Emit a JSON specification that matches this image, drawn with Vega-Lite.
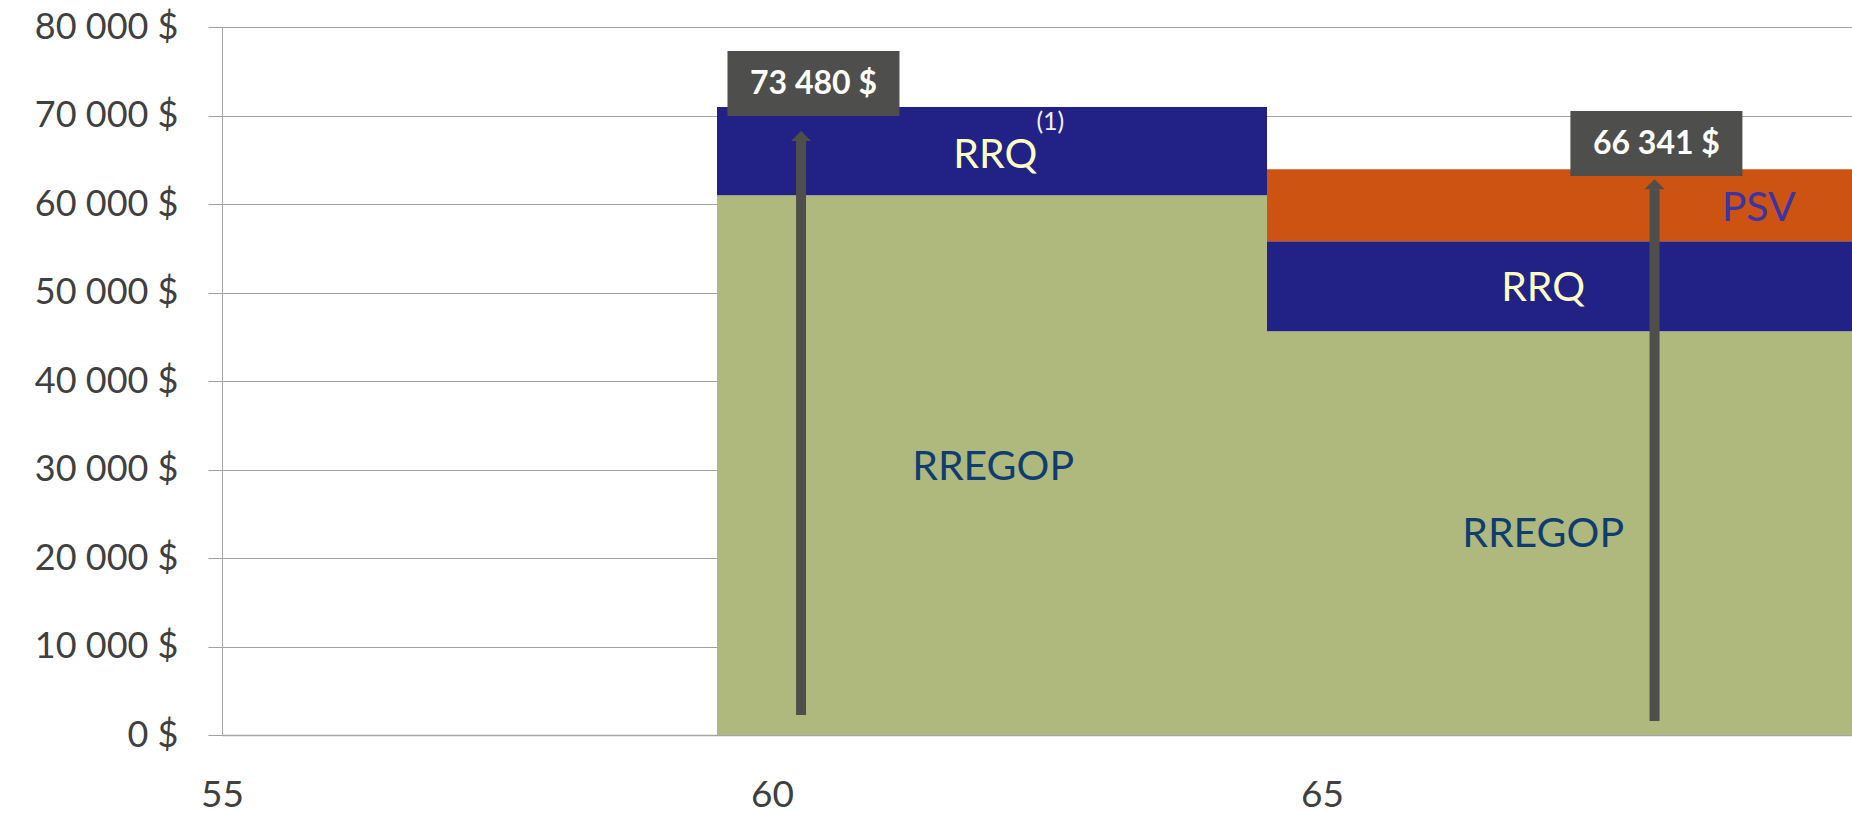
{
  "$schema": "https://vega.github.io/schema/vega-lite/v6.json",
  "width": 1630,
  "height": 708,
  "autosize": {"type": "none"},
  "padding": {"left": 222, "top": 27, "right": 0, "bottom": 78},
  "background": "white",
  "config": {"view": {"stroke": null}, "font": "Lato"},
  "datasets": {
    "segments": [
      {"segment": "RREGOP", "age_start": 59.5, "age_end": 64.5, "low": 0, "high": 61000},
      {"segment": "RRQ", "age_start": 59.5, "age_end": 64.5, "low": 61000, "high": 70950},
      {"segment": "RREGOP", "age_start": 64.5, "age_end": 70.5, "low": 0, "high": 45620},
      {"segment": "RRQ", "age_start": 64.5, "age_end": 70.5, "low": 45620, "high": 55800},
      {"segment": "PSV", "age_start": 64.5, "age_end": 70.5, "low": 55800, "high": 63940}
    ],
    "labels": [
      {"label": "RRQ", "age": 62.03, "amount": 65420},
      {"label": "(1)", "age": 62.53, "amount": 69290},
      {"label": "RREGOP", "age": 62.01, "amount": 30170},
      {"label": "RRQ", "age": 67.01, "amount": 50340},
      {"label": "PSV", "age": 68.97, "amount": 59420},
      {"label": "RREGOP", "age": 67.01, "amount": 22560}
    ],
    "totals": [
      {"total": "73 480 $", "box_age": 60.377, "box_amount": 73610, "arrow_age": 60.264, "arrow_base": 2260, "arrow_tip": 68250},
      {"total": "66 341 $", "box_age": 68.04, "box_amount": 66830, "arrow_age": 68.023, "arrow_base": 1590, "arrow_tip": 62810}
    ]
  },
  "layer": [
    {
      "data": {"name": "segments"},
      "mark": {"type": "rect", "clip": true},
      "encoding": {
        "x": {
          "field": "age_start", "type": "quantitative",
          "scale": {"domain": [55, 69.818], "nice": false, "zero": false},
          "axis": {
            "values": [55, 60, 65, 70], "format": "d", "title": null, "grid": false,
            "ticks": false, "tickSize": 0,
            "domainColor": "#a6a6a6", "domainWidth": 1.5,
            "labelFont": "Lato", "labelFontSize": 37, "labelColor": "#404040",
            "labelBaseline": "alphabetic", "labelPadding": 71, "labelFlush": false
          }
        },
        "x2": {"field": "age_end"},
        "y": {
          "field": "low", "type": "quantitative",
          "scale": {"domain": [0, 80000], "nice": false},
          "axis": {
            "values": [0, 10000, 20000, 30000, 40000, 50000, 60000, 70000, 80000],
            "title": null, "grid": true, "gridColor": "#a0a0a0", "gridWidth": 1,
            "tickColor": "#a0a0a0", "tickSize": 14, "tickWidth": 1,
            "domainColor": "#a6a6a6", "domainWidth": 1,
            "labelFont": "Lato", "labelFontSize": 36, "labelColor": "#404040",
            "labelPadding": 30,
            "labelExpr": "replace(format(datum.value, ','), ',', ' ') + ' $'"
          }
        },
        "y2": {"field": "high"},
        "color": {
          "field": "segment", "type": "nominal",
          "scale": {"domain": ["RREGOP", "RRQ", "PSV"], "range": ["#afb97e", "#212186", "#cc5311"]},
          "legend": null
        }
      }
    },
    {
      "data": {"name": "totals"},
      "mark": {"type": "rule", "strokeWidth": 10, "color": "#4e4f4c", "y2Offset": 10},
      "encoding": {
        "x": {"field": "arrow_age", "type": "quantitative"},
        "y": {"field": "arrow_base", "type": "quantitative"},
        "y2": {"field": "arrow_tip"}
      }
    },
    {
      "data": {"name": "totals"},
      "mark": {"type": "point", "shape": "M-1,1L1,1L0,0Z", "size": 400, "filled": true, "opacity": 1, "color": "#4e4f4c", "strokeWidth": 0},
      "encoding": {
        "x": {"field": "arrow_age", "type": "quantitative"},
        "y": {"field": "arrow_tip", "type": "quantitative"}
      }
    },
    {
      "data": {"name": "totals"},
      "mark": {"type": "point", "shape": "M-1,-0.378L1,-0.378L1,0.378L-1,0.378Z", "size": 29584, "filled": true, "opacity": 1, "color": "#4e4f4c", "strokeWidth": 0},
      "encoding": {
        "x": {"field": "box_age", "type": "quantitative"},
        "y": {"field": "box_amount", "type": "quantitative"}
      }
    },
    {
      "data": {"name": "totals"},
      "mark": {"type": "text", "font": "Lato", "fontSize": 32, "fontWeight": "bold", "color": "#ffffff", "align": "center", "baseline": "middle"},
      "encoding": {
        "x": {"field": "box_age", "type": "quantitative"},
        "y": {"field": "box_amount", "type": "quantitative"},
        "text": {"field": "total"}
      }
    },
    {
      "data": {"name": "labels"},
      "transform": [{"filter": "datum.label == 'RRQ'"}],
      "mark": {"type": "text", "font": "Lato", "fontSize": 41, "color": "#ffffc4", "align": "center", "baseline": "middle"},
      "encoding": {
        "x": {"field": "age", "type": "quantitative"},
        "y": {"field": "amount", "type": "quantitative"},
        "text": {"field": "label"}
      }
    },
    {
      "data": {"name": "labels"},
      "transform": [{"filter": "datum.label == '(1)'"}],
      "mark": {"type": "text", "font": "Lato", "fontSize": 25, "color": "#f2f2ff", "align": "center", "baseline": "middle"},
      "encoding": {
        "x": {"field": "age", "type": "quantitative"},
        "y": {"field": "amount", "type": "quantitative"},
        "text": {"field": "label"}
      }
    },
    {
      "data": {"name": "labels"},
      "transform": [{"filter": "datum.label == 'RREGOP'"}],
      "mark": {"type": "text", "font": "Lato", "fontSize": 41, "color": "#0f3d70", "align": "center", "baseline": "middle"},
      "encoding": {
        "x": {"field": "age", "type": "quantitative"},
        "y": {"field": "amount", "type": "quantitative"},
        "text": {"field": "label"}
      }
    },
    {
      "data": {"name": "labels"},
      "transform": [{"filter": "datum.label == 'PSV'"}],
      "mark": {"type": "text", "font": "Lato", "fontSize": 41, "color": "#3b34a6", "align": "center", "baseline": "middle"},
      "encoding": {
        "x": {"field": "age", "type": "quantitative"},
        "y": {"field": "amount", "type": "quantitative"},
        "text": {"field": "label"}
      }
    }
  ]
}
